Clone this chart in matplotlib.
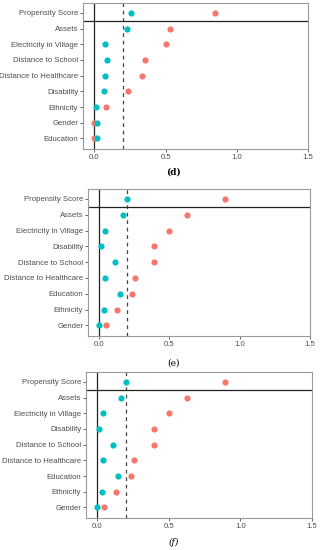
import numpy as np
import matplotlib.pyplot as plt

plt.rcParams["font.family"] = ["Liberation Sans", "DejaVu Sans"]

# panel (d)
labels_d = ["Propensity Score", "Assets", "Electricity in Village", "Distance to School",
            "Distance to Healthcare", "Disability", "Ethnicity", "Gender", "Education"]
before_d = [0.85, 0.53, 0.50, 0.355, 0.335, 0.237, 0.085, 0.0, 0.0]
after_d = [0.254, 0.228, 0.073, 0.087, 0.075, 0.068, 0.01, 0.02, 0.017]

# panel (e)
labels_e = ["Propensity Score", "Assets", "Electricity in Village", "Disability",
            "Distance to School", "Distance to Healthcare", "Education", "Ethnicity", "Gender"]
before_e = [0.892, 0.622, 0.496, 0.392, 0.389, 0.254, 0.235, 0.123, 0.045]
after_e = [0.197, 0.166, 0.043, 0.012, 0.109, 0.038, 0.147, 0.031, 0.0]

# panel (f)
labels_f = labels_e
before_f = [0.895, 0.624, 0.498, 0.394, 0.392, 0.255, 0.234, 0.128, 0.049]
after_f = [0.197, 0.167, 0.042, 0.014, 0.109, 0.037, 0.146, 0.030, 0.0]

captions = ["(d)", "(e)", "(f)"]
xticks = [0.0, 0.5, 1.0, 1.5]
threshold = 0.2

W, H = 321, 550
fig = plt.figure(figsize=(W / 100, H / 100), dpi=100)

# pixel boxes: left, right, top, bottom ; caption y
boxes = [(83, 308, 3, 149, 172), (88, 310, 189, 336, 363), (86, 312, 372, 518, 542)]
panels = [(labels_d, before_d, after_d), (labels_e, before_e, after_e), (labels_f, before_f, after_f)]
cap_style = [dict(fontweight="bold"), dict(), dict(fontstyle="italic")]

for (l, r, t, b, cy), (labs, bef, aft), cap, cs in zip(boxes, panels, captions, cap_style):
    ax = fig.add_axes([l / W, 1 - b / H, (r - l) / W, (b - t) / H])
    n = len(labs)
    y = np.arange(n, 0, -1)
    ax.axvline(0, color="#222222", lw=0.9, zorder=1)
    ax.axvline(threshold, color="#444444", lw=0.9, ls=(0, (3, 3)), zorder=1)
    ax.axhline(n - 0.5, color="#222222", lw=0.9, zorder=1)
    ax.scatter(bef, y, s=20, color="#F8766D", zorder=3, lw=0)
    ax.scatter(aft, y, s=20, color="#00BFC4", zorder=4, lw=0)
    ax.set_xlim(-0.08, 1.5)
    ax.set_ylim(0.33, n + 0.63)
    ax.set_yticks(y)
    ax.set_yticklabels(labs)
    ax.set_xticks(xticks)
    ax.set_xticklabels(["0.0", "0.5", "1.0", "1.5"])
    ax.tick_params(labelsize=5.6, colors="#4d4d4d", length=2, width=0.6, pad=1.5)
    for s in ax.spines.values():
        s.set_color("#9a9a9a")
        s.set_linewidth(0.8)
    fig.text(174 / W, 1 - cy / H, cap, ha="center", va="center",
             family="DejaVu Serif", fontsize=6.5, **cs)

fig.savefig("out.png", dpi=100)
